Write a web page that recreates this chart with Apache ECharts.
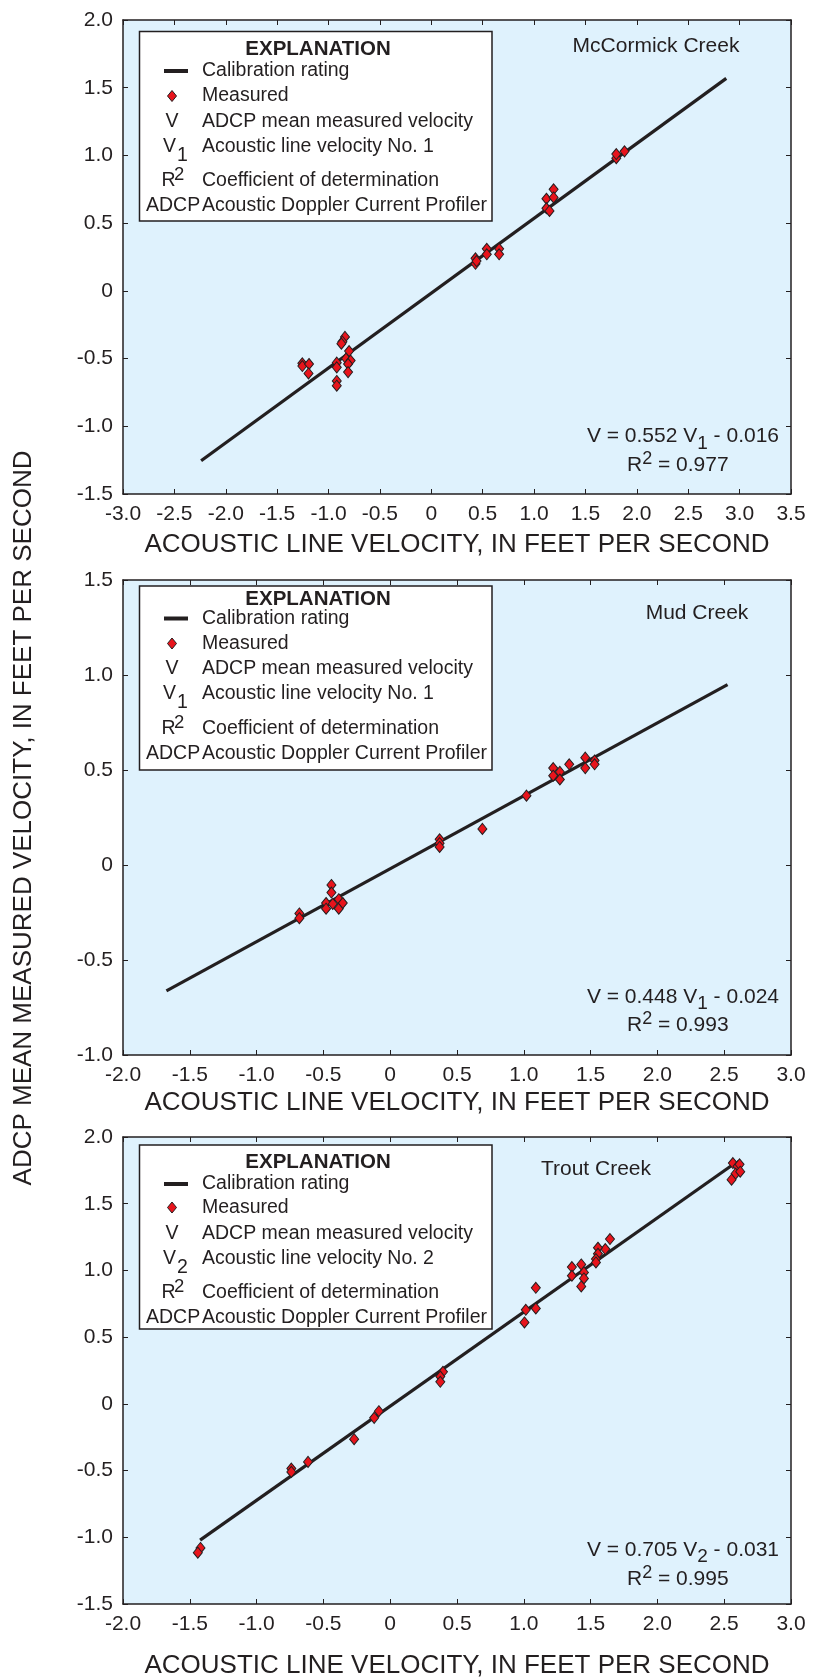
<!DOCTYPE html>
<html>
<head>
<meta charset="utf-8">
<title>Acoustic line velocity calibration ratings</title>
<script src="https://cdn.jsdelivr.net/npm/echarts@6/dist/echarts.min.js"></script>
<style>
  html, body { margin: 0; padding: 0; background: #ffffff; }
  #chart { width: 823px; height: 1680px; }
</style>
</head>
<body>
<div id="chart"></div>
<script>
// ---------------- Data ----------------
const creekNames = ['McCormick Creek', 'Mud Creek', 'Trout Creek'];

// Measured pairs: acoustic line velocity (x) vs ADCP mean measured velocity (y), ft/s
const mcCormickLineVel = [1.80, 1.80, 1.88, 1.12, 1.12, 1.15, 1.19, 1.19, 0.43, 0.43, 0.44, 0.54, 0.54, 0.66, 0.66,
  -0.84, -0.865, -0.875, -0.80, -0.83, -0.785, -0.81, -0.81, -0.92, -0.92, -0.92, -0.92, -1.255, -1.255, -1.19, -1.195];
const mcCormickAdcpVel = [0.98, 1.01, 1.03, 0.68, 0.61, 0.59, 0.75, 0.69, 0.24, 0.20, 0.22, 0.31, 0.27, 0.31, 0.27,
  -0.34, -0.375, -0.39, -0.445, -0.50, -0.515, -0.54, -0.60, -0.53, -0.565, -0.665, -0.70, -0.535, -0.555, -0.54, -0.61];

const mudLineVel = [-0.68, -0.68, -0.44, -0.44, -0.48, -0.48, -0.43, -0.385, -0.385, -0.355, 0.37, 0.37, 0.37, 0.69,
  1.02, 1.22, 1.22, 1.27, 1.27, 1.34, 1.46, 1.46, 1.53, 1.53];
const mudAdcpVel = [-0.255, -0.28, -0.105, -0.145, -0.20, -0.23, -0.205, -0.18, -0.23, -0.20, 0.135, 0.115, 0.095, 0.19,
  0.365, 0.51, 0.47, 0.49, 0.45, 0.53, 0.565, 0.51, 0.55, 0.53];

const troutLineVel = [2.565, 2.60, 2.615, 2.585, 2.62, 2.555, 1.645, 1.61, 1.555, 1.555, 1.54, 1.54, 1.43, 1.36, 1.36,
  1.45, 1.45, 1.43, 1.015, 1.005, 1.09, 1.09, 0.395, 0.375, 0.375, -0.085, -0.12, -0.27, -0.615, -0.74, -0.74, -1.42, -1.44];
const troutAdcpVel = [1.805, 1.78, 1.795, 1.725, 1.74, 1.68, 1.235, 1.16, 1.17, 1.125, 1.085, 1.06, 1.045, 1.025, 0.96,
  0.985, 0.94, 0.88, 0.705, 0.61, 0.715, 0.87, 0.24, 0.205, 0.165, -0.055, -0.105, -0.265, -0.435, -0.485, -0.51, -1.08, -1.115];

// Calibration rating lines (end points, ft/s)
const mcCormickRating = [[-2.24, -1.255], [2.87, 1.569]];
const mudRating = [[-1.675, -0.662], [2.525, 0.949]];
const troutRating = [[-1.423, -1.021], [2.556, 1.786]];

// Regression text: slope, acoustic line number, intercept, R squared
const ratingSlopes = ['0.552', '0.448', '0.705'];
const ratingLineNumbers = ['1', '1', '2'];
const ratingIntercepts = ['0.016', '0.024', '0.031'];
const ratingR2 = ['0.977', '0.993', '0.995'];

// Axis extents and tick step
const xRanges = [[-3.0, 3.5], [-2.0, 3.0], [-2.0, 3.0]];
const yRanges = [[-1.5, 2.0], [-1.0, 1.5], [-1.5, 2.0]];
const tickStep = 0.5;

const xAxisTitle = 'ACOUSTIC LINE VELOCITY, IN FEET PER SECOND';
const yAxisTitle = 'ADCP MEAN MEASURED VELOCITY, IN FEET PER SECOND';

// ---------------- Layout & style ----------------
const FONT = '"Liberation Sans", Arial, Helvetica, sans-serif';
const INK = '#231f20';
const PLOT_BG = '#dff2fd';
const MARK_RED = '#e8141c';
const PLOT_LEFT = 123;
const PLOT_W = 668;
const panelTops = [20, 580, 1137];
const panelHeights = [474, 475, 475];
const nameGaps = [38, 35, 49];
const LEG_FS = 19.5;

// explanation box geometry per panel: top, height, row centres (relative to top)
const legendBoxes = [
  { top: 31.5, h: 189.5, rows: [18, 39.5, 64.5, 90, 115, 149.5, 174.5] },
  { top: 586, h: 184, rows: [13.5, 32.5, 57.5, 83, 108, 143, 168] },
  { top: 1145, h: 184, rows: [17, 39, 62.5, 89, 114, 148, 173] }
];
const creekLabelPos = [[656, 46], [697, 613], [596, 1169.5]];
const eqY = [[436.5, 465], [997, 1025.5], [1550, 1579.5]];

const mctx = document.createElement('canvas').getContext('2d');
function textWidth(t, size, weight) {
  mctx.font = (weight || 'normal') + ' ' + size + 'px ' + FONT;
  return mctx.measureText(t).width;
}
function txt(x, y, t, size, o) {
  o = o || {};
  return {
    type: 'text', x: x, y: y, z: 120, silent: true,
    style: {
      text: t, fontSize: size, fontFamily: FONT, fill: INK,
      fontWeight: o.weight || 'normal',
      align: o.align || 'left', verticalAlign: 'middle',
      textAlign: o.align || 'left', textVerticalAlign: 'middle'
    }
  };
}
// text made of runs, each run: [text, dy, size]
function runs(x, y, parts, size, align) {
  const widths = parts.map(p => textWidth(p[0], p[2] || size));
  const total = widths.reduce((a, b) => a + b, 0);
  let cx = align === 'right' ? x - total : (align === 'center' ? x - total / 2 : x);
  const out = [];
  parts.forEach((p, i) => { out.push(txt(cx, y + (p[1] || 0), p[0], p[2] || size)); cx += widths[i]; });
  return out;
}

const tickFmt = v => (Math.abs(v) < 1e-9 ? '0' : v.toFixed(1));

const grids = [], xAxes = [], yAxes = [], series = [], graphics = [];
const pointSets = [
  [mcCormickLineVel, mcCormickAdcpVel],
  [mudLineVel, mudAdcpVel],
  [troutLineVel, troutAdcpVel]
];
const ratingLines = [mcCormickRating, mudRating, troutRating];

for (let i = 0; i < 3; i++) {
  grids.push({ left: PLOT_LEFT, top: panelTops[i], width: PLOT_W, height: panelHeights[i],
    show: true, backgroundColor: PLOT_BG, borderWidth: 0 });
  const axisLine = { show: true, onZero: false, lineStyle: { color: INK, width: 1.5 } };
  const axisTick = { show: true, inside: true, length: 5, lineStyle: { color: INK, width: 1 } };
  const lbl = { color: INK, fontSize: 21, fontFamily: FONT, margin: 10, formatter: tickFmt };
  xAxes.push({ type: 'value', gridIndex: i, position: 'bottom', min: xRanges[i][0], max: xRanges[i][1],
    interval: tickStep, axisLine, axisTick, splitLine: { show: false }, axisLabel: lbl,
    name: xAxisTitle, nameLocation: 'middle', nameGap: nameGaps[i],
    nameTextStyle: { color: INK, fontSize: 26, fontFamily: FONT } });
  xAxes.push({ type: 'value', gridIndex: i, position: 'top', min: xRanges[i][0], max: xRanges[i][1],
    interval: tickStep, axisLine, axisTick, splitLine: { show: false }, axisLabel: { show: false } });
  yAxes.push({ type: 'value', gridIndex: i, position: 'left', min: yRanges[i][0], max: yRanges[i][1],
    interval: tickStep, axisLine, axisTick, splitLine: { show: false }, axisLabel: lbl });
  yAxes.push({ type: 'value', gridIndex: i, position: 'right', min: yRanges[i][0], max: yRanges[i][1],
    interval: tickStep, axisLine, axisTick, splitLine: { show: false }, axisLabel: { show: false } });

  series.push({ type: 'line', name: 'Calibration rating', xAxisIndex: 2 * i, yAxisIndex: 2 * i,
    data: ratingLines[i], showSymbol: false, symbol: 'none', z: 3,
    lineStyle: { color: INK, width: 3.2 }, silent: true });
  const [xs, ys] = pointSets[i];
  series.push({ type: 'scatter', name: 'Measured', xAxisIndex: 2 * i, yAxisIndex: 2 * i,
    data: xs.map((x, k) => [x, ys[k]]), symbol: 'diamond', symbolSize: [9, 11], z: 4,
    itemStyle: { color: MARK_RED, borderColor: INK, borderWidth: 1, opacity: 1 } });

  // explanation box
  const lb = legendBoxes[i];
  const L = 139.5, W = 352.5;
  graphics.push({ type: 'rect', z: 110, silent: true,
    shape: { x: L, y: lb.top, width: W, height: lb.h },
    style: { fill: '#ffffff', stroke: INK, lineWidth: 1.5 } });
  const r = lb.rows.map(v => lb.top + v);
  const TX = 202;
  graphics.push(txt(318, r[0], 'EXPLANATION', 20.5, { weight: 'bold', align: 'center' }));
  graphics.push({ type: 'rect', z: 120, silent: true, shape: { x: 164, y: r[1] - 2, width: 24, height: 4 },
    style: { fill: INK } });
  graphics.push(txt(TX, r[1], 'Calibration rating', LEG_FS));
  graphics.push({ type: 'polygon', z: 120, silent: true,
    shape: { points: [[172, r[2] - 5.5], [176.5, r[2]], [172, r[2] + 5.5], [167.5, r[2]]] },
    style: { fill: MARK_RED, stroke: INK, lineWidth: 1 } });
  graphics.push(txt(TX, r[2], 'Measured', LEG_FS));
  graphics.push(txt(172, r[3], 'V', LEG_FS, { align: 'center' }));
  graphics.push(txt(TX, r[3], 'ADCP mean measured velocity', LEG_FS));
  graphics.push(txt(163, r[4], 'V', LEG_FS));
  graphics.push(txt(177, r[4] + 9, ratingLineNumbers[i], LEG_FS));
  graphics.push(txt(TX, r[4], 'Acoustic line velocity No. ' + ratingLineNumbers[i], LEG_FS));
  graphics.push(txt(161.5, r[5], 'R', LEG_FS));
  graphics.push(txt(174, r[5] - 6, '2', 18.5));
  graphics.push(txt(TX, r[5], 'Coefficient of determination', LEG_FS));
  graphics.push(txt(146, r[6], 'ADCP', LEG_FS));
  graphics.push(txt(TX, r[6], 'Acoustic Doppler Current Profiler', LEG_FS));

  // site name
  graphics.push(txt(creekLabelPos[i][0], creekLabelPos[i][1], creekNames[i], 21, { align: 'center' }));

  // rating equation and R squared
  runs(779, eqY[i][0], [
    ['V = ' + ratingSlopes[i] + ' V', 0],
    [ratingLineNumbers[i], 7, 19],
    [' - ' + ratingIntercepts[i], 0]
  ], 21, 'right').forEach(e => graphics.push(e));
  runs(627, eqY[i][1], [
    ['R', 0],
    ['2', -6, 18],
    [' = ' + ratingR2[i], 0]
  ], 21, 'left').forEach(e => graphics.push(e));
}

// shared vertical axis title
graphics.push({ type: 'text', x: 24, y: 818, rotation: Math.PI / 2, z: 120, silent: true,
  style: { text: yAxisTitle, fontSize: 26, fontFamily: FONT, fill: INK,
    align: 'center', verticalAlign: 'middle', textAlign: 'center', textVerticalAlign: 'middle' } });

const chart = echarts.init(document.getElementById('chart'), null, { renderer: 'canvas' });
chart.setOption({
  animation: false,
  backgroundColor: '#ffffff',
  grid: grids,
  xAxis: xAxes,
  yAxis: yAxes,
  series: series,
  graphic: graphics
});
</script>
</body>
</html>
